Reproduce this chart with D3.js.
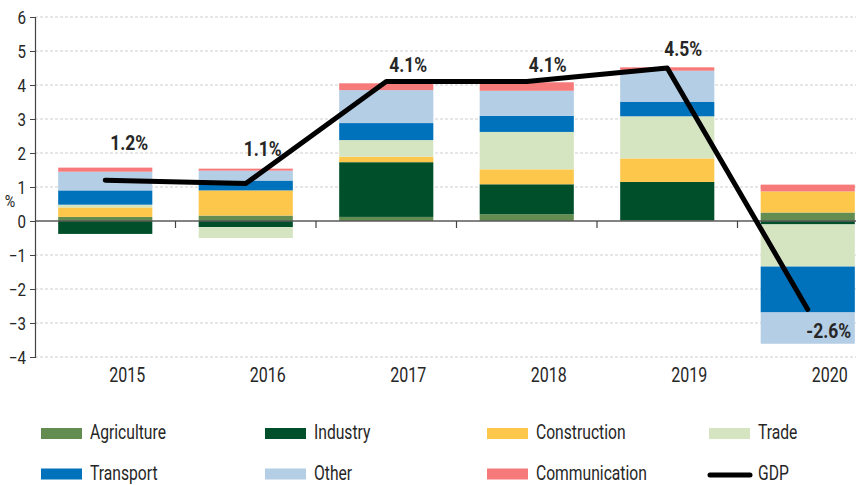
<!DOCTYPE html>
<html>
<head>
<meta charset="utf-8">
<script src="https://cdn.jsdelivr.net/npm/d3@7"></script>
<style>
  html, body { margin: 0; padding: 0; background: #fff; }
  svg { display: block; }
  text { font-family: Roboto, 'Liberation Sans', sans-serif; fill: #262626; }
</style>
</head>
<body>
<svg id="chart" width="856" height="485"></svg>
<script>
// ---- data ----
const years = ["2015", "2016", "2017", "2018", "2019", "2020"];
const agriculture   = [0.12, 0.16, 0.12, 0.20, 0.02, 0.25];
const industry      = [-0.38, -0.18, 1.61, 0.88, 1.13, -0.10];
const construction  = [0.28, 0.74, 0.16, 0.44, 0.69, 0.62];
const trade         = [0.08, -0.32, 0.49, 1.10, 1.24, -1.24];
const transport     = [0.42, 0.29, 0.50, 0.47, 0.43, -1.35];
const other         = [0.55, 0.29, 0.97, 0.74, 0.91, -0.92];
const communication = [0.12, 0.06, 0.20, 0.25, 0.10, 0.20];
const gdp           = [1.2, 1.1, 4.1, 4.1, 4.5, -2.6];
const gdpLabels     = ["1.2%", "1.1%", "4.1%", "4.1%", "4.5%", "-2.6%"];
const yTicks        = [-4, -3, -2, -1, 0, 1, 2, 3, 4, 5, 6];
const seriesNames   = ["Agriculture", "Industry", "Construction", "Trade", "Transport", "Other", "Communication"];

// ---- styles ----
const colors = ["#638c50", "#004f2b", "#fdc74b", "#d6e5c1", "#0071bb", "#b4cee5", "#f77a7a"];
const labelDx = [24, 17, 22, 21, 16, 21];
const labelDy = [-30, -28, -10, -10, -12, 29];

const seriesValues = [agriculture, industry, construction, trade, transport, other, communication];
const rows = years.map((yr, i) => {
  const r = { year: yr };
  seriesNames.forEach((n, k) => r[n] = seriesValues[k][i]);
  return r;
});

const svg = d3.select("#chart");
const plotLeft = 35, plotRight = 878, plotTop = 17, plotBottom = 357;

// horizontal condensing factor so that a sample string gets a target width
function squeeze(sample, size, weight, target) {
  const t = svg.append("text").attr("font-size", size).attr("font-weight", weight).text(sample);
  const w = t.node().getComputedTextLength();
  t.remove();
  return w > 0 ? Math.min(1, target / w) : 1;
}
const sLegend = squeeze("Agriculture", 21, "normal", 76);
const sYear = squeeze("2015", 21, "normal", 36);
const sTick = squeeze("6", 18, "normal", 8.5);
const sValue = squeeze("1.2%", 21, "bold", 38);

const x = d3.scaleBand().domain(years).range([plotLeft, plotRight]).paddingInner(0.33).paddingOuter(0.165);
const y = d3.scaleLinear().domain([-4, 6]).range([plotBottom, plotTop]);

// gridlines
svg.append("g").selectAll("line").data(yTicks.filter(t => t !== 0)).join("line")
  .attr("x1", plotLeft).attr("x2", 856)
  .attr("y1", d => y(d)).attr("y2", d => y(d))
  .attr("stroke", "#cfcfcf").attr("stroke-width", 1.2).attr("stroke-dasharray", "3,2");

// bars
const stack = d3.stack().keys(seriesNames).offset(d3.stackOffsetDiverging);
const stacked = stack(rows);
svg.append("g").selectAll("g").data(stacked).join("g")
  .attr("fill", (d, i) => colors[i])
  .selectAll("rect").data(d => d).join("rect")
  .attr("x", d => x(d.data.year))
  .attr("width", x.bandwidth())
  .attr("y", d => y(Math.max(d[0], d[1])))
  .attr("height", d => Math.abs(y(d[0]) - y(d[1])));

// zero line
svg.append("line").attr("x1", plotLeft).attr("x2", 856).attr("y1", y(0)).attr("y2", y(0))
  .attr("stroke", "#5a5a5a").attr("stroke-width", 1.5);

// x ticks at band boundaries
const step = x.step();
const bounds = years.slice(1).map(yr => x(yr) - x.paddingInner() * step / 2);
svg.append("g").selectAll("line").data(bounds).join("line")
  .attr("x1", d => d).attr("x2", d => d)
  .attr("y1", y(0)).attr("y2", y(0) + 7)
  .attr("stroke", "#444").attr("stroke-width", 1.2);

// y axis
const yAxis = d3.axisLeft(y).tickValues(yTicks).tickSize(5).tickPadding(4);
const gy = svg.append("g").attr("transform", `translate(${plotLeft},0)`).call(yAxis);
gy.select(".domain").attr("stroke", "#444").attr("stroke-width", 1.2);
gy.selectAll(".tick line").attr("stroke", "#444");
gy.selectAll(".tick text").attr("font-size", 18).attr("fill", "#262626")
  .attr("font-family", null)
  .attr("x", 0).attr("dy", "0.36em")
  .attr("transform", `translate(-9,0) scale(${sTick},1)`);

svg.append("text").attr("transform", `translate(10,207) scale(${sTick},1)`).attr("text-anchor", "middle")
  .attr("font-size", 17).text("%");

// x labels
svg.append("g").selectAll("text").data(years).join("text")
  .attr("transform", d => `translate(${x(d) + x.bandwidth() / 2 + 22},382) scale(${sYear},1)`)
  .attr("text-anchor", "middle")
  .attr("font-size", 21)
  .text(d => d);

// GDP line
const line = d3.line()
  .x((d, i) => x(years[i]) + x.bandwidth() / 2)
  .y(d => y(d));
svg.append("path").datum(gdp).attr("d", line)
  .attr("fill", "none").attr("stroke", "#000").attr("stroke-width", 5)
  .attr("stroke-linejoin", "round").attr("stroke-linecap", "round");

// GDP labels
svg.append("g").selectAll("text").data(gdp).join("text")
  .attr("transform", (d, i) => `translate(${x(years[i]) + x.bandwidth() / 2 + labelDx[i]},${y(d) + labelDy[i]}) scale(${sValue},1)`)
  .attr("text-anchor", "middle")
  .attr("font-size", 21).attr("font-weight", "bold")
  .text((d, i) => gdpLabels[i]);

// legend
const legendItems = seriesNames.map((n, i) => ({ name: n, color: colors[i], type: "rect" }))
  .concat([{ name: "GDP", color: "#000", type: "line" }]);
const colX = [41, 265, 487, 709];
const rowY = [433.5, 474];
const lg = svg.append("g").selectAll("g").data(legendItems).join("g")
  .attr("transform", (d, i) => `translate(${colX[i % 4]},${rowY[Math.floor(i / 4)]})`);
lg.filter(d => d.type === "rect").append("rect")
  .attr("x", 0).attr("y", -5.5).attr("width", 41).attr("height", 11).attr("fill", d => d.color);
lg.filter(d => d.type === "line").append("line")
  .attr("x1", 1).attr("x2", 41).attr("y1", 1).attr("y2", 1)
  .attr("stroke", "#000").attr("stroke-width", 5).attr("stroke-linecap", "round");
lg.append("text").attr("transform", `translate(49,5.5) scale(${sLegend},1)`)
  .attr("font-size", 21).text(d => d.name);
</script>
</body>
</html>
